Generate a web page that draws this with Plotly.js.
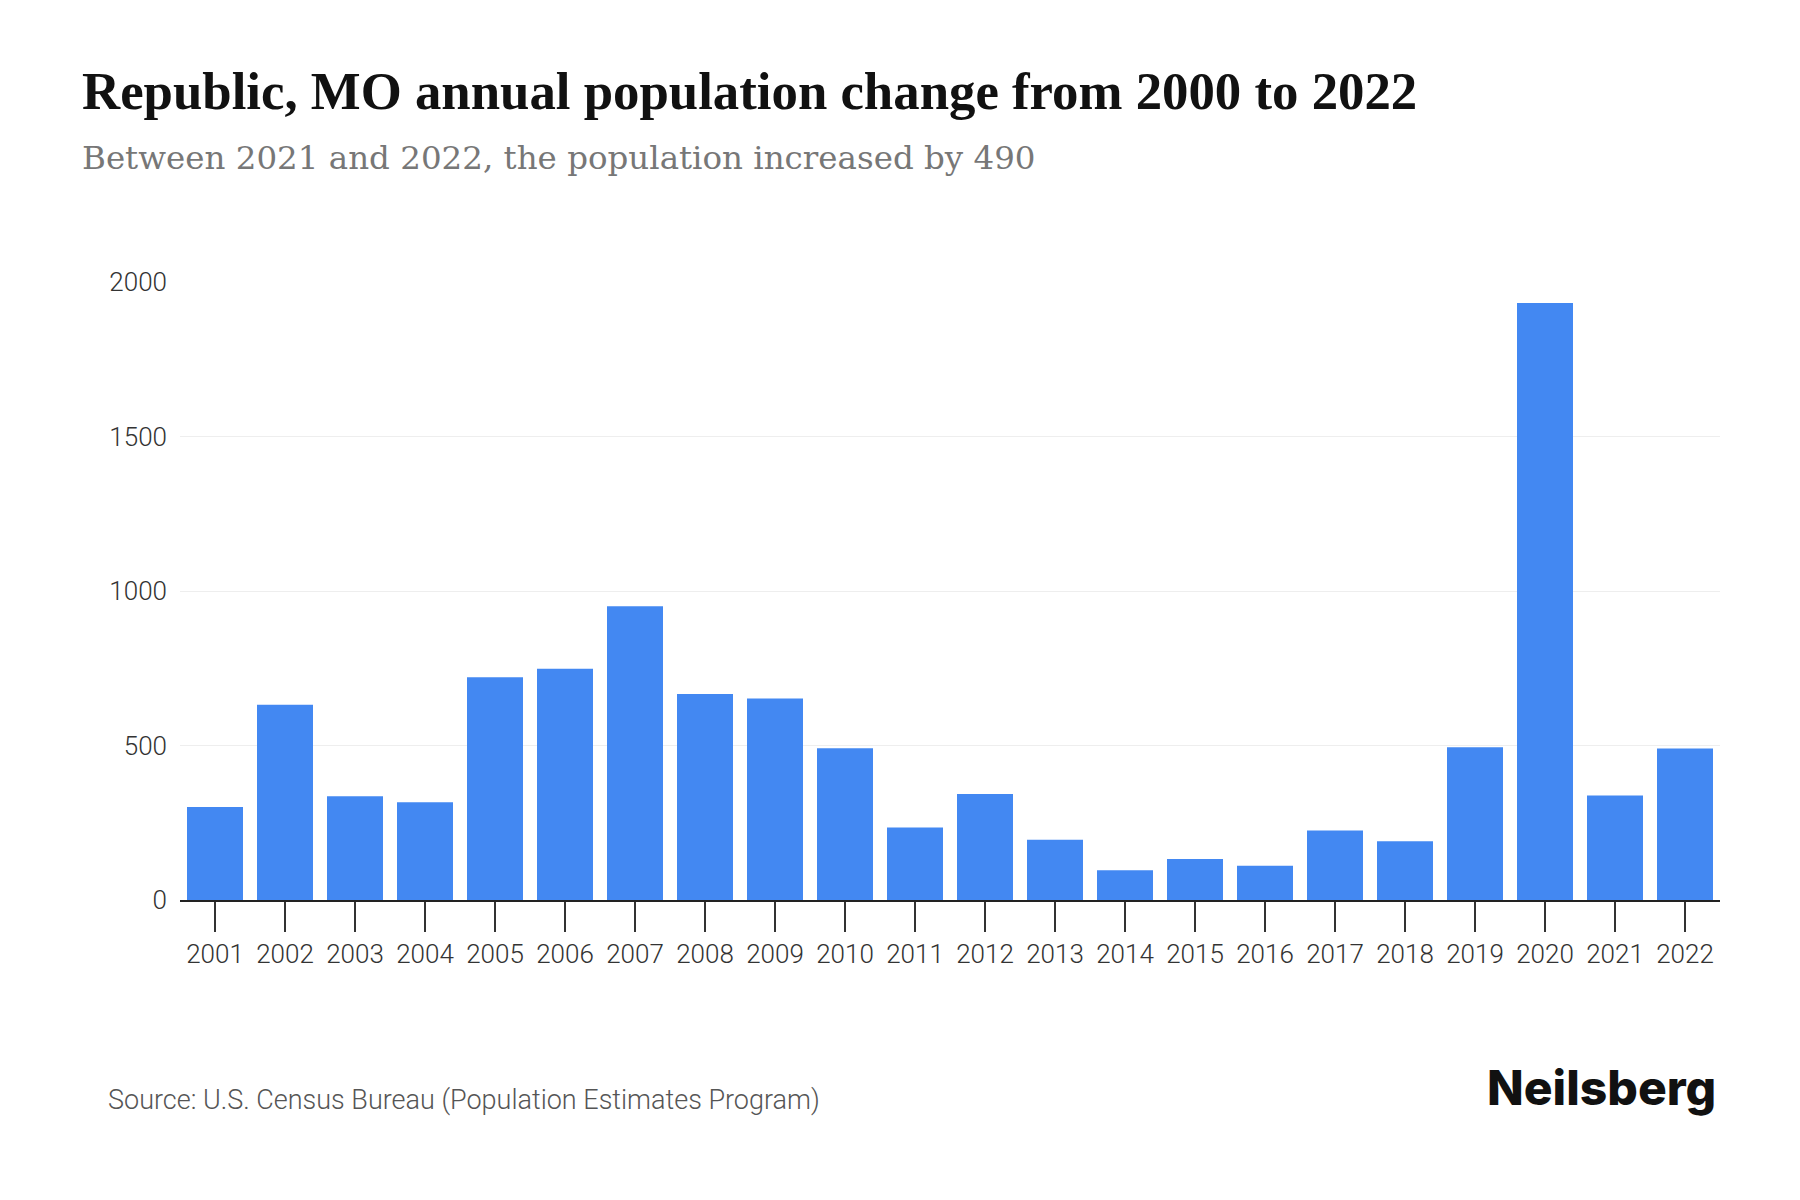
<!DOCTYPE html>
<html>
<head>
<meta charset="utf-8">
<script src="https://cdn.plot.ly/plotly-3.0.1.min.js"></script>
<style>html,body{margin:0;padding:0;background:#fff;}#chart{width:1800px;height:1200px;}</style>
</head>
<body>
<div id="chart"></div>
<script>
const years = ["2001","2002","2003","2004","2005","2006","2007","2008","2009","2010","2011","2012","2013","2014","2015","2016","2017","2018","2019","2020","2021","2022"];
const populationChange = [301,632,336,316,721,748,951,667,652,491,235,343,195,96,133,111,225,190,494,1932,338,490];
const yTicks = [0,500,1000,1500,2000];

const titleText = "Republic, MO annual population change from 2000 to 2022";
const subtitleText = "Between 2021 and 2022, the population increased by 490";
const sourceText = "Source: U.S. Census Bureau (Population Estimates Program)";
const brandText = "Neilsberg";

const L = 180, R = 80, T = 282, B = 300, W = 1800, H = 1200;
const plotH = H - T - B, plotW = W - L - R;
const px = x => (x - L) / plotW;
const py = y => (H - B - y) / plotH;

const trace = {
  type: 'bar',
  x: years,
  y: populationChange,
  marker: {color: '#4388f2'},
  hoverinfo: 'x+y'
};

const layout = {
  width: W, height: H,
  margin: {l: L, r: R, t: T, b: B, pad: 0},
  paper_bgcolor: '#ffffff',
  plot_bgcolor: '#ffffff',
  bargap: 0.2,
  showlegend: false,
  font: {family: 'Roboto, sans-serif', color: '#333333'},
  xaxis: {
    type: 'category',
    range: [-0.5, 21.5],
    showgrid: false,
    showline: true,
    linecolor: '#222222',
    linewidth: 1.5,
    ticks: 'outside',
    ticklen: 30,
    tickwidth: 1.5,
    tickcolor: '#333333',
    tickfont: {family: 'Roboto, sans-serif', size: 26, color: '#333333', weight: 300},
    fixedrange: true
  },
  yaxis: {
    range: [0, 2000],
    tickvals: yTicks,
    ticktext: yTicks.map(String),
    showgrid: true,
    gridcolor: '#eeeeee',
    gridwidth: 1,
    zeroline: false,
    showline: false,
    ticks: '',
    ticklabelstandoff: 12,
    tickfont: {family: 'Roboto, sans-serif', size: 26, color: '#333333', weight: 300},
    fixedrange: true
  },
  annotations: [
    {text: titleText, xref: 'paper', yref: 'paper', x: px(80), y: py(90.5), xanchor: 'left', yanchor: 'middle', showarrow: false,
     font: {family: 'Liberation Serif, serif', size: 52.8, color: '#111111', weight: 700}},
    {text: subtitleText, xref: 'paper', yref: 'paper', x: px(80), y: py(158.5), xanchor: 'left', yanchor: 'middle', showarrow: false,
     font: {family: 'DejaVu Serif, serif', size: 32.5, color: '#777777'}},
    {text: sourceText, xref: 'paper', yref: 'paper', x: px(106), y: py(1099.5), xanchor: 'left', yanchor: 'middle', showarrow: false,
     font: {family: 'Roboto, sans-serif', size: 27, color: '#555555', weight: 300}},
    {text: brandText, xref: 'paper', yref: 'paper', x: px(1718), y: py(1087.5), xanchor: 'right', yanchor: 'middle', showarrow: false,
     font: {family: 'Inter, Roboto, sans-serif', size: 48, color: '#111111', weight: 800}}
  ]
};

Plotly.newPlot('chart', [trace], layout, {displayModeBar: false, staticPlot: true});
</script>
</body>
</html>
